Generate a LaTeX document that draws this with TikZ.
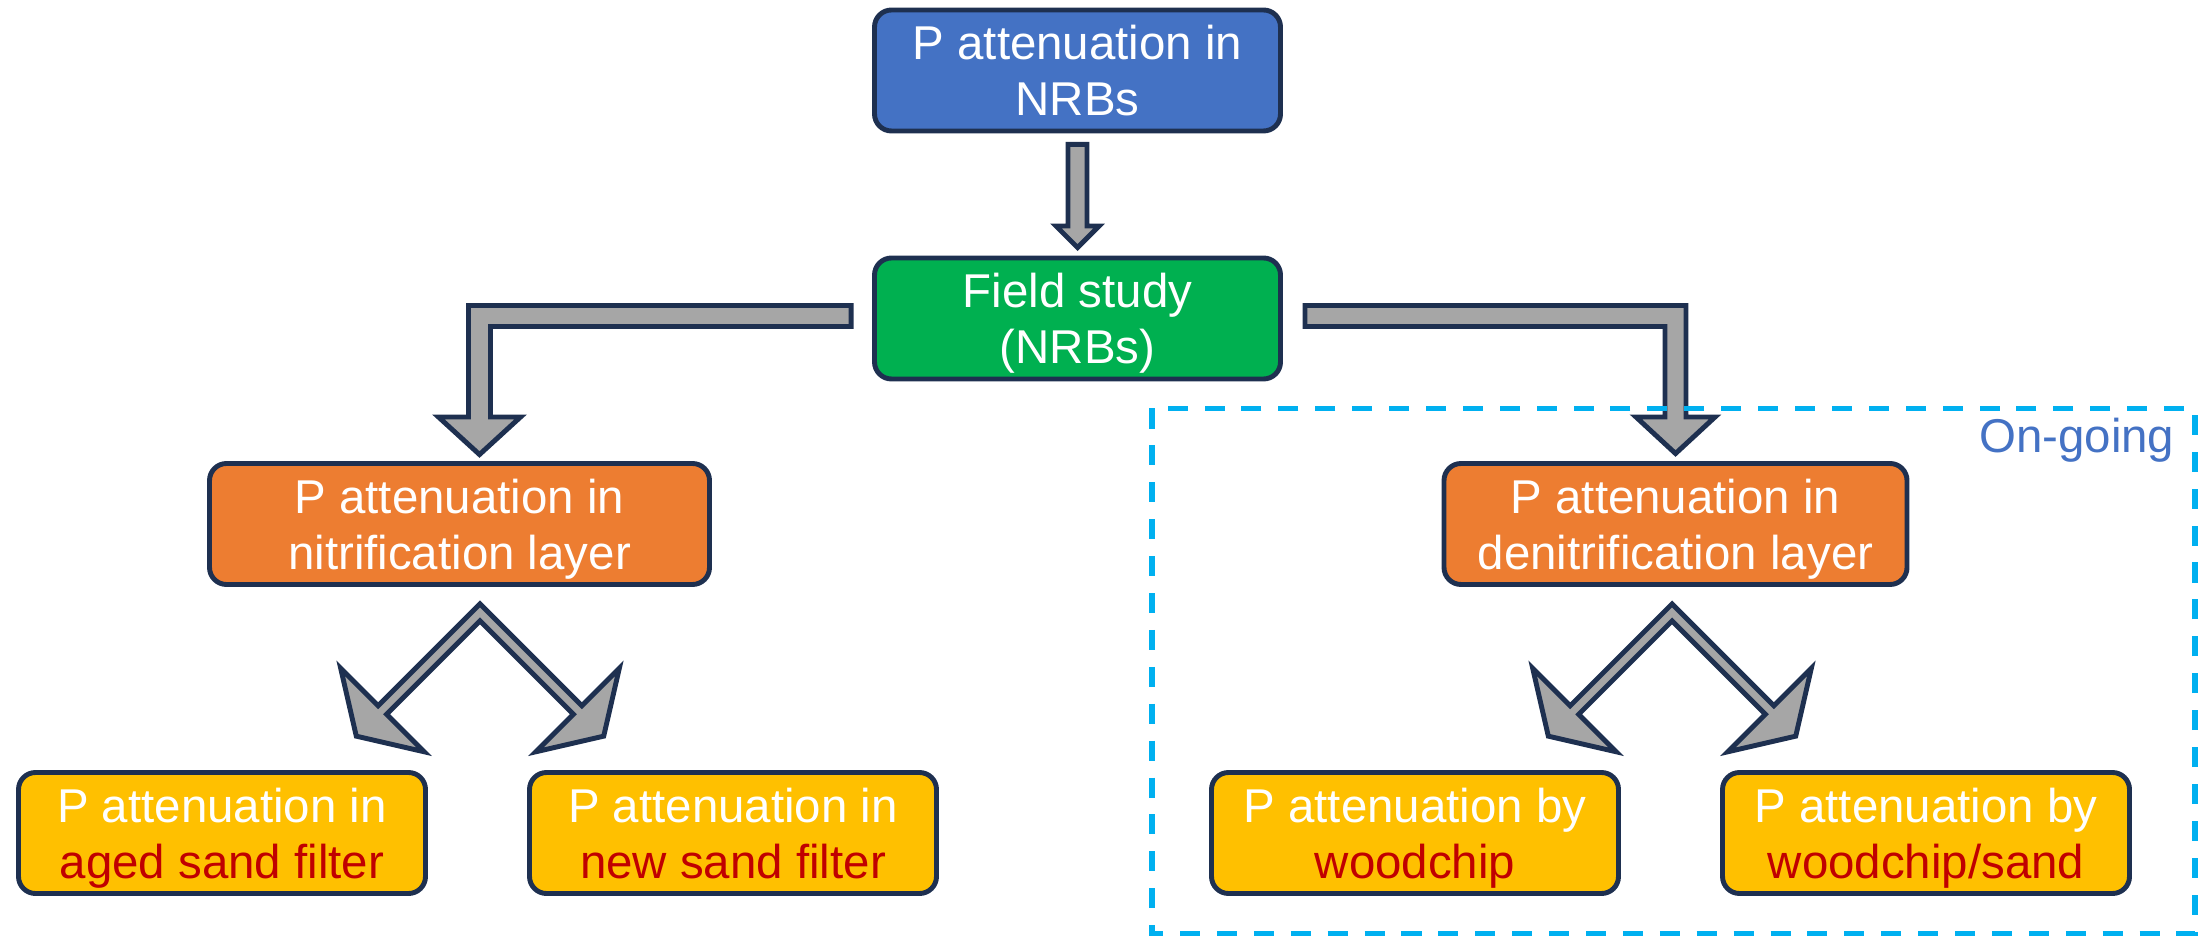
\documentclass[tikz,border=0pt]{standalone}
\usepackage{fontspec}
\setmainfont{Liberation Sans}
\usetikzlibrary{calc}

\definecolor{nrbblue}{HTML}{4472C4}
\definecolor{fieldgreen}{HTML}{00B050}
\definecolor{layerorange}{HTML}{ED7D31}
\definecolor{subyellow}{HTML}{FFC000}
\definecolor{mediared}{HTML}{C00000}
\definecolor{edgenavy}{HTML}{1E3050}
\definecolor{arrowgray}{HTML}{A6A6A6}
\definecolor{dashcyan}{HTML}{00B0F0}

\begin{document}
\begin{tikzpicture}[
    box/.style={rectangle, draw=edgenavy, line width=1.4pt, rounded corners=0.17cm, text=white, align=center, inner sep=0pt, text depth=0pt, minimum height=1.21cm, font=\fontsize{13.5}{16}\selectfont},
    rootbox/.style={box, fill=nrbblue, minimum width=4.06cm},
    fieldbox/.style={box, fill=fieldgreen, minimum width=4.06cm},
    layerbox/.style={box, fill=layerorange, minimum width=4.63cm},
    subbox/.style={box, fill=subyellow, minimum width=4.07cm},
    blockarrow/.style={draw=edgenavy, fill=arrowgray, line width=1.4pt},
    ongoingframe/.style={draw=dashcyan, line width=1.7pt, dash pattern=on 5.7pt off 4.8pt}
]
\useasboundingbox (0,0) rectangle (22.06,-9.39);

\node[rootbox] (nrb) at (10.775,-0.705) {P attenuation in\\NRBs};
\node[fieldbox] (field) at (10.775,-3.185) {Field study\\(NRBs)};

\node[layerbox, minimum width=5cm] (nitri) at (4.595,-5.24) {P attenuation in\\nitrification layer};
\node[layerbox] (denitri) at (16.755,-5.24) {P attenuation in\\denitrification layer};

\node[subbox] (aged) at (2.22,-8.33) {P attenuation in\\\textcolor{mediared}{aged sand filter}};
\node[subbox] (new) at (7.33,-8.33) {P attenuation in\\\textcolor{mediared}{new sand filter}};
\node[subbox] (wood) at (14.15,-8.33) {P attenuation by\\\textcolor{mediared}{woodchip}};
\node[subbox] (woodsand) at (19.26,-8.33) {P attenuation by\\\textcolor{mediared}{woodchip/sand}};

% Arrows
\coordinate (a1s) at ($(nrb.south)+(0,-0.11)$);
\coordinate (a1e) at ($(field.north)+(0,0.08)$);
\draw[blockarrow] (a1e) -- ++(-0.215,0.215) -- ++(0.12,0) |- ($(a1s)+(0.095,0)$)
    |- ($(a1e)+(0.215,0.215)$) -- cycle;

\coordinate (lst) at ($(field.west)+(-0.21,0.025)$);
\coordinate (ltip) at ($(nitri.north)+(0.2,0.065)$);
\draw[blockarrow] ($(lst)+(0,0.105)$) -| ($(ltip)+(-0.11,0.375)$) -- ++(-0.30,0) -- (ltip)
    -- ++(0.41,0.375) -- ++(-0.30,0) |- ($(lst)+(0,-0.105)$) -- cycle;

\coordinate (rst) at ($(field.east)+(0.22,0.025)$);
\coordinate (rtip) at ($(denitri.north)+(0,0.075)$);
\draw[blockarrow] ($(rst)+(0,0.105)$) -| ($(rtip)+(0.105,0.365)$) -- ++(0.29,0) -- (rtip)
    -- ++(-0.395,0.365) -- ++(0.29,0) |- ($(rst)+(0,-0.105)$) -- cycle;

\coordinate (lsplit) at ($(nitri.south)+(0.205,-0.255)$);
\coordinate (rsplit) at ($(denitri.south)+(-0.035,-0.255)$);
\foreach \s in {lsplit,rsplit}
    \draw[blockarrow, shift={(\s)}] (0,0.085) -- (-1.018,-0.933) -- (-1.393,-0.559)
        -- (-1.237,-1.237) -- (-0.559,-1.393) -- (-0.933,-1.018) -- (0,-0.085)
        -- (0.933,-1.018) -- (0.559,-1.393) -- (1.237,-1.237) -- (1.393,-0.559)
        -- (1.018,-0.933) -- cycle;

% On-going part
\draw[ongoingframe] (11.515,-4.085) rectangle (21.945,-9.335);
\node[anchor=base east, inner sep=0pt, text=nrbblue, font=\fontsize{13.5}{16}\selectfont] (ongoing) at (21.75,-4.53) {On-going};

\end{tikzpicture}
\end{document}
